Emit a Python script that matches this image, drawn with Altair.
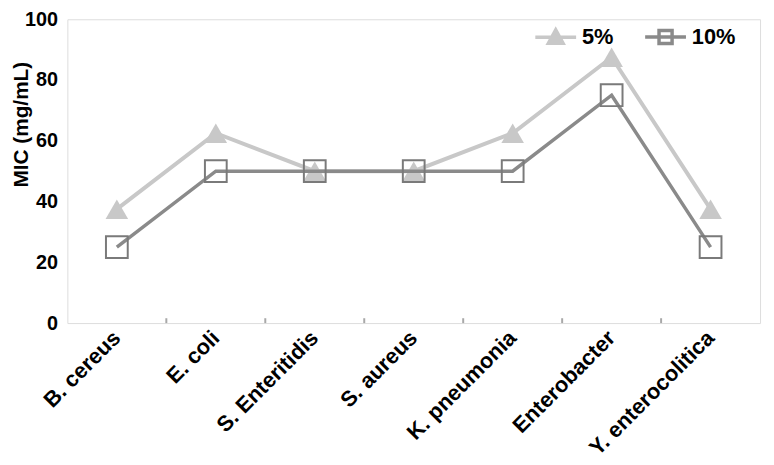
import altair as alt
import pandas as pd

categories = ["B. cereus", "E. coli", "S. Enteritidis", "S. aureus",
              "K. pneumonia", "Enterobacter", "Y. enterocolitica"]
series = ["5%", "10%"]
mic_5 = [37.5, 62.5, 50, 50, 62.5, 87.5, 37.5]
mic_10 = [25, 50, 50, 50, 50, 75, 25]
y_ticks = [0, 20, 40, 60, 80, 100]

rows = []
for s, vals in zip(series, [mic_5, mic_10]):
    for c, v in zip(categories, vals):
        rows.append({"organism": c, "series": s, "mic": v})
df = pd.DataFrame(rows)
tick_df = pd.DataFrame({"organism": categories[1:]})

FONT = "Liberation Sans"
C5 = "#c8c8c8"
C10 = "#8a8a8a"
FRAME = "#a8a8a8"

xscale = alt.Scale(type="band", domain=categories, paddingInner=0, paddingOuter=0)
yscale = alt.Scale(domain=[0, 100], nice=False)

x_enc = alt.X("organism:N", sort=categories, scale=xscale,
              axis=alt.Axis(title=None, labelAngle=-45, labelFontSize=22,
                            labelFontWeight="bold", labelColor="black", labelFont=FONT,
                            domain=False, ticks=False, labelPadding=11))
y_enc = alt.Y("mic:Q", scale=yscale,
              axis=alt.Axis(values=y_ticks, title="MIC (mg/mL)", grid=False, ticks=False,
                            domain=False, labelFontSize=20, labelFontWeight="bold",
                            labelColor="black", labelFont=FONT, labelPadding=10,
                            titleFontSize=21, titleFontWeight="bold", titleColor="black",
                            titleFont=FONT, titleX=-46, titleY=106, titleAlign="center",
                            titleBaseline="middle", titleAngle=-90))

base = alt.Chart(df)

line5 = base.transform_filter(alt.datum.series == "5%").mark_line(
    color=C5, strokeWidth=4).encode(x=x_enc, y=y_enc)
tri5 = base.transform_filter(alt.datum.series == "5%").mark_point(
    shape="triangle-up", filled=True, color=C5, size=520, opacity=1).encode(x=x_enc, y=y_enc)
line10 = base.transform_filter(alt.datum.series == "10%").mark_line(
    color=C10, strokeWidth=3.5).encode(x=x_enc, y=y_enc)
sq10 = base.transform_filter(alt.datum.series == "10%").mark_point(
    shape="square", filled=False, color="#7a7a7a", strokeWidth=2, size=484,
    opacity=1).encode(x=x_enc, y=y_enc)

ticks = alt.Chart(tick_df).mark_rule(color=FRAME, strokeWidth=2).encode(
    x=alt.X("organism:N", sort=categories, scale=xscale, bandPosition=0),
    y=alt.datum(0), y2=alt.datum(1.6))

path5 = "M-1,0H1M-0.36,0.3L0,-0.36L0.36,0.3Z"
path10 = "M-1,0H1M-0.32,-0.32H0.32V0.32H-0.32Z"
leg = dict(title=None, orient="none", legendX=471, legendY=-5, direction="horizontal",
           labelFontSize=22, labelFontWeight="bold", labelColor="black", labelFont=FONT,
           symbolSize=1700, symbolStrokeWidth=3.5, labelOffset=4, columnPadding=24)

legend_layer = base.transform_filter("false").mark_point(opacity=1, filled=True).encode(
    x=x_enc, y=y_enc,
    shape=alt.Shape("series:N", scale=alt.Scale(domain=series, range=[path5, path10]),
                    legend=alt.Legend(**leg)),
    fill=alt.Fill("series:N", scale=alt.Scale(domain=series, range=[C5, "rgba(0,0,0,0)"]),
                  legend=alt.Legend(**leg)),
    stroke=alt.Stroke("series:N", scale=alt.Scale(domain=series, range=[C5, C10]),
                      legend=alt.Legend(**leg)),
)

chart = alt.layer(ticks, line5, tri5, line10, sq10, legend_layer).properties(
    width=700, height=307,
    autosize=alt.AutoSizeParams(type="none"),
    padding={"left": 60, "top": 9, "right": 6, "bottom": 140},
).configure_view(stroke=FRAME, strokeWidth=2.5).configure(background="white")

chart.save("out.html", embed_options={"renderer": "svg", "actions": False})
